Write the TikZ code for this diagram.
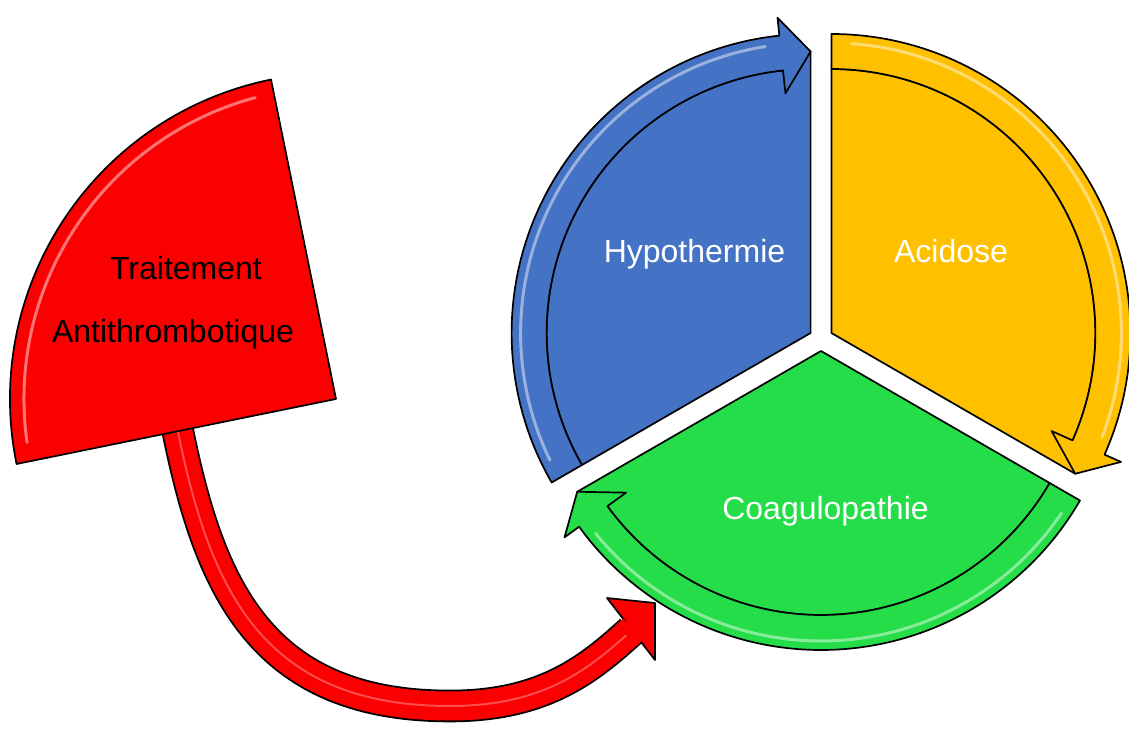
\documentclass[tikz,border=0pt]{standalone}
\usepackage{fontspec}
\setmainfont{Liberation Sans}
\usepackage{tikz}

\definecolor{hypoblue}{RGB}{68,114,196}
\definecolor{acidorange}{RGB}{255,192,0}
\definecolor{coaggreen}{RGB}{36,221,72}
\definecolor{traitred}{RGB}{250,0,0}

% one part of the cycle: colour, offset angle, start angle, tip angle
\newcommand{\cyclepart}[4]{%
	\begin{scope}[shift={(821,389)}, shift={(#2:12)}]
	\filldraw[piece, fill=#1] (0,0) -- (#4:281.5) -- ({#4+6}:264)
		arc[start angle={#4+6}, end angle=#3, radius=264] -- cycle;
	\filldraw[piece, fill=#1] (#3:264) -- (#3:299)
		arc[start angle=#3, end angle={#4+6}, radius=299] -- ({#4+6}:317)
		-- (#4:281.5) -- ({#4+6}:241) -- ({#4+6}:264)
		arc[start angle={#4+6}, end angle=#3, radius=264] -- cycle;
	\draw[gloss] ({#3-4}:290) arc[start angle={#3-4}, end angle={#4+9}, radius=290];
	\end{scope}}

\begin{document}
\begin{tikzpicture}[x=1pt, y=1pt,
	piece/.style={draw=black, line width=1.7pt, line join=round},
	gloss/.style={draw=white, opacity=0.45, line width=3pt, line cap=round},
	txt/.style={font=\fontsize{32}{38}\selectfont, anchor=base}]
	
	\useasboundingbox (0,0) rectangle (1129,728);
	
	% the cycle
	\cyclepart{hypoblue}{150}{210}{90}
	\cyclepart{acidorange}{30}{90}{-30}
	\cyclepart{coaggreen}{270}{330}{210}
	
	\node[txt, text=white] (hypo) at (694.5,465) {Hypothermie};
	\node[txt, text=white] (acid) at (951,465)   {Acidose};
	\node[txt, text=white] (coag) at (825.5,208) {Coagulopathie};
	
	% the red arrow
	\coordinate (stemtop)  at (178,296);
	\coordinate (stembot)  at (450,22);
	\coordinate (headbase) at (631,97);
	
	\draw[line width=1.8pt, double=traitred, double distance=29pt] (stemtop)
		.. controls (210,139) and (262,22) .. (stembot)
		.. controls (545,22) and (590,60) .. (headbase);
	\draw[gloss, opacity=0.3, line width=2pt] (stemtop)
		.. controls (210,139) and (262,22) .. (stembot)
		.. controls (545,22) and (590,60) .. (headbase);
	\filldraw[piece, fill=traitred] (607,130) -- (655,125) -- (655,68) -- cycle;
	\draw[traitred, line width=29pt] (626.5,92.5) -- (633.2,99);
	
	% the red sector
	\filldraw[piece, fill=traitred] (336,329) -- ++(101.5:326)
		arc[start angle=101.5, end angle=191.5, radius=326] -- cycle;
	\draw[gloss] (336,329) ++(105:312) arc[start angle=105, end angle=188, radius=312];
	
	\node[txt] (trait)   at (186,448) {Traitement};
	\node[txt] (antithr) at (173,385) {Antithrombotique};
	
\end{tikzpicture}
\end{document}
